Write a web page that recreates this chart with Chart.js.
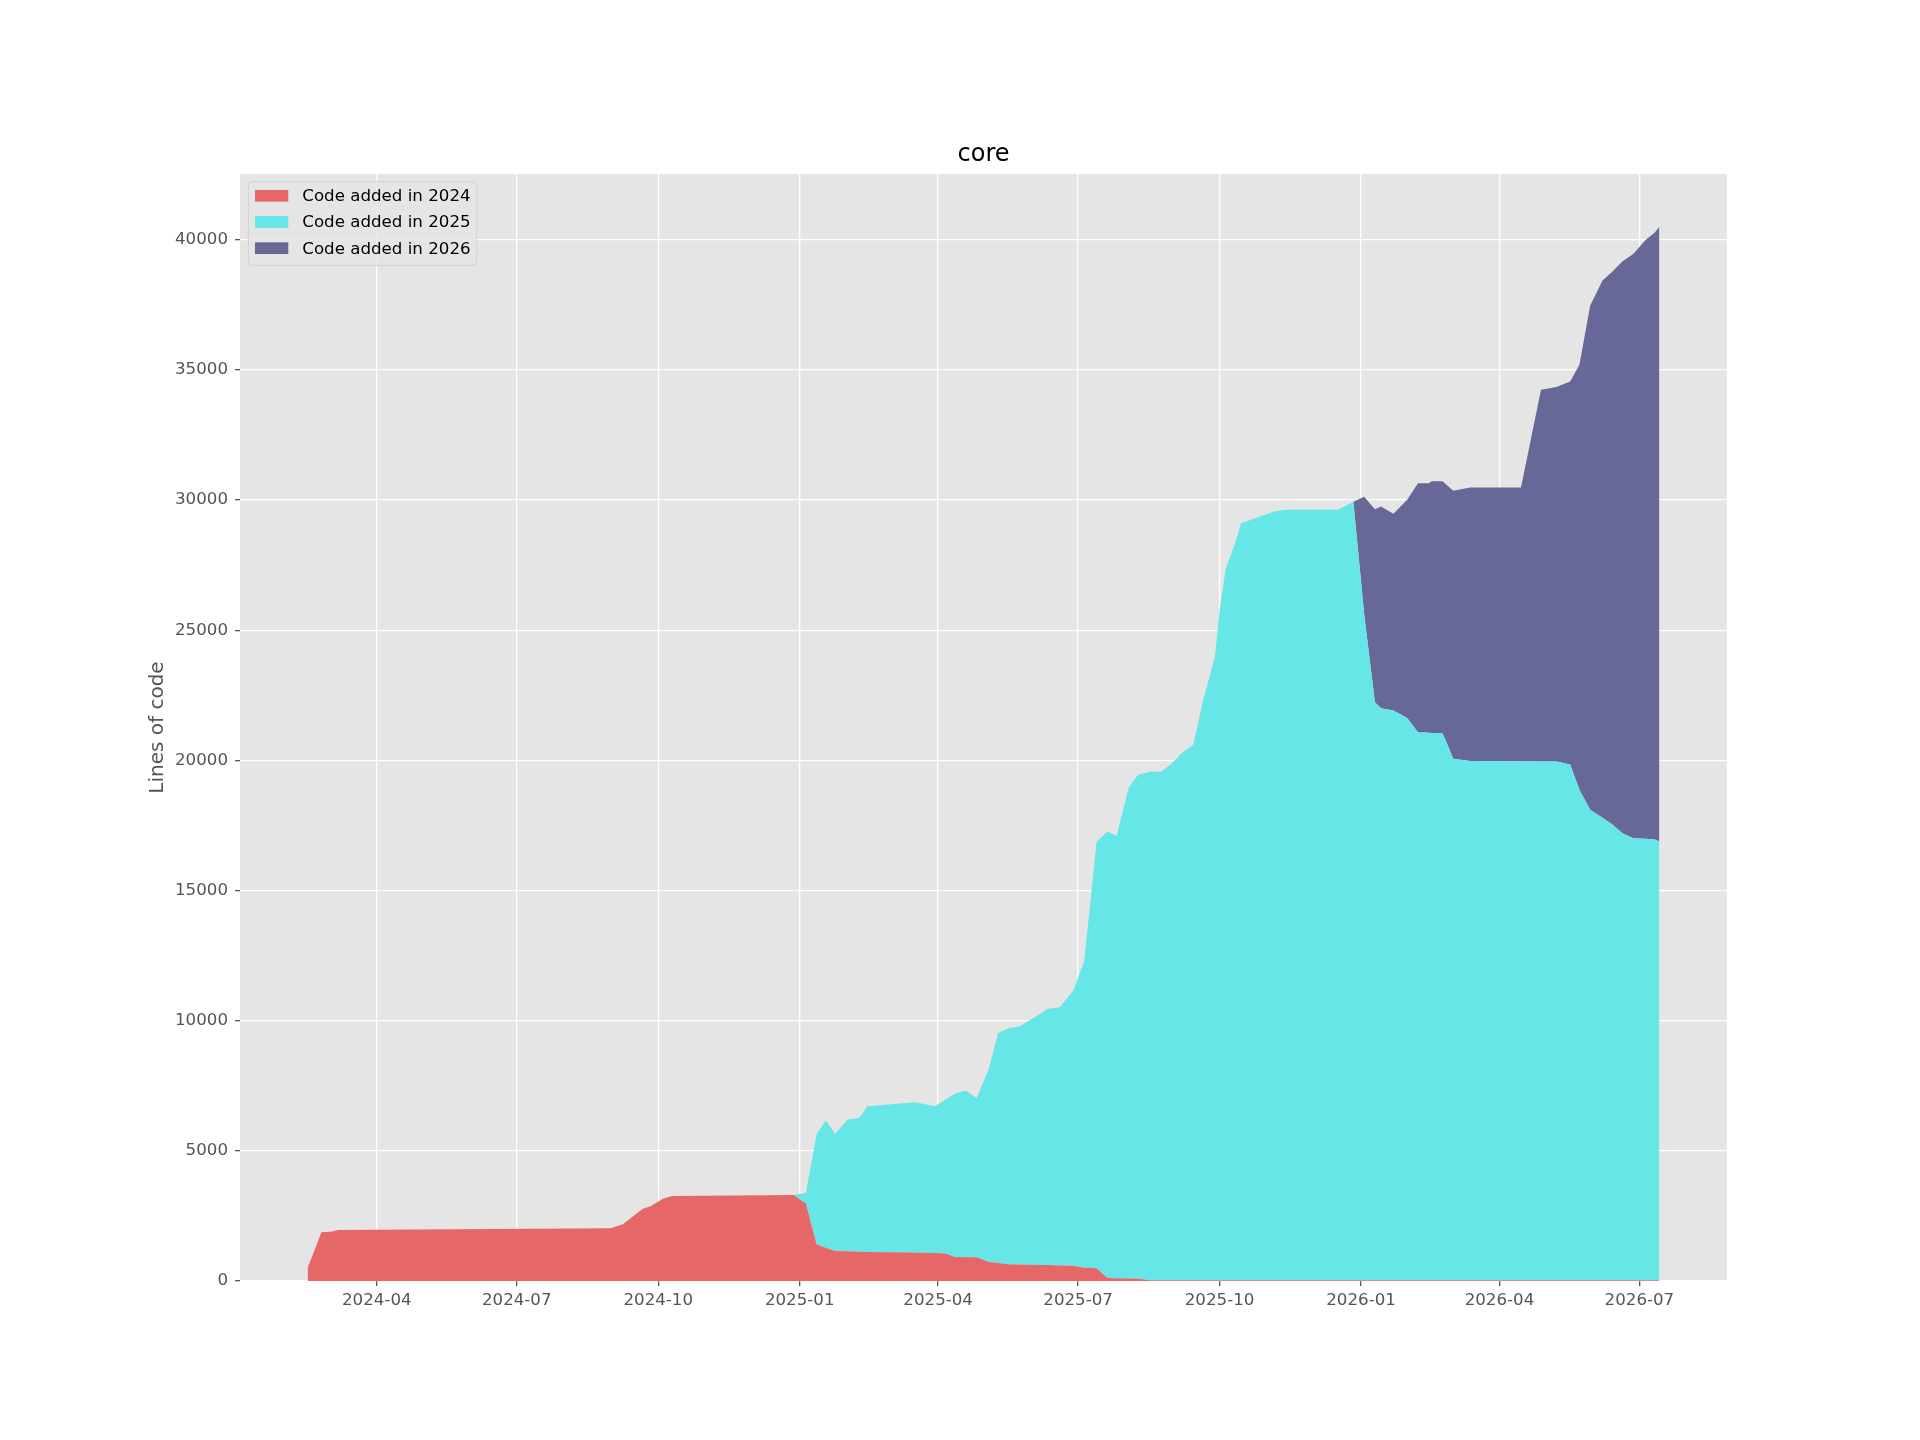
<!DOCTYPE html>
<html>
<head>
<meta charset="utf-8">
<title>core</title>
<script src="https://cdn.jsdelivr.net/npm/chart.js@4.4.1/dist/chart.umd.min.js"></script>
<style>
  html, body { margin: 0; padding: 0; background: #fff; }
  #wrap { width: 1920px; height: 1440px; }
</style>
</head>
<body>
<div id="wrap"><canvas id="chart" width="1920" height="1440"></canvas></div>
<script>
// sample dates
const dates = [
  '2024-02-16', '2024-02-25', '2024-03-03', '2024-03-07', '2024-08-31', '2024-09-08',
  '2024-09-21', '2024-09-26', '2024-10-04', '2024-10-10', '2024-12-28',
  '2025-01-05', '2025-01-12', '2025-01-18', '2025-01-24', '2025-02-01', '2025-02-09',
  '2025-02-14', '2025-03-17', '2025-03-30', '2025-04-06', '2025-04-12', '2025-04-19',
  '2025-04-26', '2025-05-04', '2025-05-10', '2025-05-17', '2025-05-24', '2025-05-31',
  '2025-06-07', '2025-06-11', '2025-06-19', '2025-06-28', '2025-07-05', '2025-07-13',
  '2025-07-20', '2025-07-26', '2025-08-03', '2025-08-09', '2025-08-17', '2025-08-24',
  '2025-08-31', '2025-09-06', '2025-09-14', '2025-09-20', '2025-09-28', '2025-10-01',
  '2025-10-05', '2025-10-11', '2025-10-15', '2025-11-06', '2025-11-12', '2025-12-17',
  '2025-12-27',
  '2026-01-03', '2026-01-10', '2026-01-14', '2026-01-22', '2026-01-31', '2026-02-07',
  '2026-02-14', '2026-02-16', '2026-02-23', '2026-03-02', '2026-03-13', '2026-04-15',
  '2026-04-28', '2026-05-08', '2026-05-17', '2026-05-23', '2026-05-30', '2026-06-07',
  '2026-06-13', '2026-06-20', '2026-06-27', '2026-07-05', '2026-07-11', '2026-07-14'
];

const added2024 = [
  500, 1870, 1900, 1960, 2025, 2180, 2780, 2870, 3160, 3265, 3300,
  2975, 1400, 1275, 1150, 1140, 1120, 1115, 1095, 1075, 1055,
  920, 915, 910, 730, 690, 645, 635, 625, 615, 610,
  598, 590, 510, 488, 112, 105, 92, 82, 30, 30,
  30, 30, 30, 30, 30, 30, 30, 30, 30, 30,
  30, 30, 30,
  30, 30, 30, 30, 30, 30, 30, 30, 30, 30,
  30, 30, 30, 30, 30, 30, 30, 30, 30, 30,
  30, 30, 30, 30
];

const added2025 = [
  0, 0, 0, 0, 0, 0, 0, 0, 0, 0, 0,
  405, 4250, 4895, 4500, 5060, 5150, 5595, 5775, 5635, 5915,
  6280, 6405, 6110, 7430, 8830, 9070, 9145, 9415, 9675, 9840,
  9922, 10570, 11790, 16372, 17158, 16995, 18878, 19368, 19530, 19530,
  19860, 20220, 20580, 22200, 23960, 25720, 27330, 28290, 29080, 29540,
  29600, 29600, 29900,
  25600, 22200, 21970, 21890, 21600, 21050, 21030, 21025, 21010, 20030,
  19950, 19935, 19930, 19925, 19810, 18840, 18070, 17770, 17530, 17170,
  16980, 16960, 16930, 16850
];

const added2026 = [
  0, 0, 0, 0, 0, 0, 0, 0, 0, 0, 0,
  0, 0, 0, 0, 0, 0, 0, 0, 0, 0,
  0, 0, 0, 0, 0, 0, 0, 0, 0, 0,
  0, 0, 0, 0, 0, 0, 0, 0, 0, 0,
  0, 0, 0, 0, 0, 0, 0, 0, 0, 0,
  0, 0, 0,
  4500, 7420, 7750, 7550, 8380, 9570, 9590, 9665, 9680, 10300,
  10500, 10515, 14280, 14385, 14710, 16330, 19370, 20630, 21190, 21970,
  22440, 23000, 23320, 23620
];

const chartTitle = 'core';
const seriesLabels = ['Code added in 2024', 'Code added in 2025', 'Code added in 2026'];
const seriesColors = ['#e66767', '#66e6e6', '#676798'];
const xTickLabels = ['2024-04', '2024-07', '2024-10', '2025-01', '2025-04', '2025-07', '2025-10', '2026-01', '2026-04', '2026-07'];
const yTickValues = [0, 5000, 10000, 15000, 20000, 25000, 30000, 35000, 40000];

const FONT = '"DejaVu Sans", "Liberation Sans", sans-serif';

const xs = dates.map(d => Date.parse(d));
const xSpan = xs[xs.length - 1] - xs[0];
const xMin = xs[0] - 0.05 * xSpan;
const xMax = xs[xs.length - 1] + 0.05 * xSpan;
const totals = xs.map((_, i) => added2024[i] + added2025[i] + added2026[i]);
const yMax = Math.max(...totals) * 1.05;

function toPoints(values) {
  return values.map((v, i) => ({ x: xs[i], y: v }));
}

// grey panel like the ggplot style
const panelBackground = {
  id: 'panelBackground',
  beforeDraw(chart) {
    const { ctx, chartArea: a } = chart;
    ctx.save();
    ctx.fillStyle = '#ffffff';
    ctx.fillRect(0, 0, chart.width, chart.height);
    ctx.fillStyle = '#e5e5e5';
    ctx.fillRect(a.left, a.top, a.right - a.left, a.bottom - a.top);
    ctx.restore();
  }
};

// title centred over the plot panel, not the whole canvas
const panelTitle = {
  id: 'panelTitle',
  afterDraw(chart) {
    const { ctx, chartArea: a } = chart;
    ctx.save();
    ctx.font = '24px ' + FONT;
    ctx.fillStyle = '#000000';
    ctx.textAlign = 'center';
    ctx.textBaseline = 'middle';
    ctx.fillText(chartTitle, (a.left + a.right) / 2, a.top - 19);
    ctx.restore();
  }
};

// legend box in the upper left corner of the plot
const boxLegend = {
  id: 'boxLegend',
  afterDraw(chart) {
    const { ctx, chartArea } = chart;
    const x = chartArea.left + 8.3;
    const y = chartArea.top + 7.7;
    ctx.save();
    ctx.fillStyle = 'rgba(229,229,229,0.8)';
    ctx.strokeStyle = 'rgba(204,204,204,0.8)';
    ctx.lineWidth = 1;
    ctx.beginPath();
    ctx.roundRect(x, y, 228.4, 83.6, 4);
    ctx.fill();
    ctx.stroke();
    ctx.font = '16.67px ' + FONT;
    ctx.textBaseline = 'middle';
    seriesLabels.forEach((label, i) => {
      const cy = y + 14.1 + i * 26.2;
      ctx.fillStyle = seriesColors[i];
      ctx.fillRect(x + 6.7, cy - 5.85, 33.3, 11.7);
      ctx.fillStyle = '#000000';
      ctx.fillText(label, x + 54, cy + 1);
    });
    ctx.restore();
  }
};

const ctx = document.getElementById('chart').getContext('2d');

new Chart(ctx, {
  type: 'line',
  data: {
    datasets: [
      {
        label: seriesLabels[0],
        data: toPoints(added2024),
        backgroundColor: seriesColors[0],
        borderColor: seriesColors[0],
        borderWidth: 0,
        pointRadius: 0,
        fill: 'origin'
      },
      {
        label: seriesLabels[1],
        data: toPoints(added2025),
        backgroundColor: seriesColors[1],
        borderColor: seriesColors[1],
        borderWidth: 0,
        pointRadius: 0,
        fill: '-1'
      },
      {
        label: seriesLabels[2],
        data: toPoints(added2026),
        backgroundColor: seriesColors[2],
        borderColor: seriesColors[2],
        borderWidth: 0,
        pointRadius: 0,
        fill: '-1'
      }
    ]
  },
  options: {
    responsive: false,
    devicePixelRatio: 1,
    animation: false,
    layout: {
      padding: { left: 0, right: 193, top: 174, bottom: 0 }
    },
    elements: {
      line: { tension: 0 }
    },
    plugins: {
      legend: { display: false },
      tooltip: { enabled: false },
      title: { display: false }
    },
    scales: {
      x: {
        type: 'linear',
        min: xMin,
        max: xMax,
        afterFit(scale) { scale.height = 159; },
        afterBuildTicks(scale) {
          scale.ticks = xTickLabels.map(t => ({ value: Date.parse(t + '-01') }));
        },
        ticks: {
          autoSkip: false,
          maxRotation: 0,
          minRotation: 0,
          padding: 5,
          color: '#555555',
          font: { family: FONT, size: 16.67 },
          callback(value) {
            const d = new Date(value);
            return d.getUTCFullYear() + '-' + String(d.getUTCMonth() + 1).padStart(2, '0');
          }
        },
        grid: {
          color: '#ffffff',
          lineWidth: 1.3,
          tickLength: 5,
          tickColor: '#555555',
          tickWidth: 1.3
        },
        border: { display: false }
      },
      y: {
        stacked: true,
        min: 0,
        max: yMax,
        afterFit(scale) { scale.width = 240; },
        afterBuildTicks(scale) {
          scale.ticks = yTickValues.map(v => ({ value: v }));
        },
        ticks: {
          padding: 7,
          color: '#555555',
          font: { family: FONT, size: 16.67 },
          callback(value) { return String(value); }
        },
        grid: {
          color: '#ffffff',
          lineWidth: 1.3,
          tickLength: 5,
          tickColor: '#555555',
          tickWidth: 1.3
        },
        border: { display: false },
        title: {
          display: true,
          text: 'Lines of code',
          color: '#555555',
          font: { family: FONT, size: 20 },
          padding: { top: 146, bottom: 0 }
        }
      }
    }
  },
  plugins: [panelBackground, panelTitle, boxLegend]
});
</script>
</body>
</html>
